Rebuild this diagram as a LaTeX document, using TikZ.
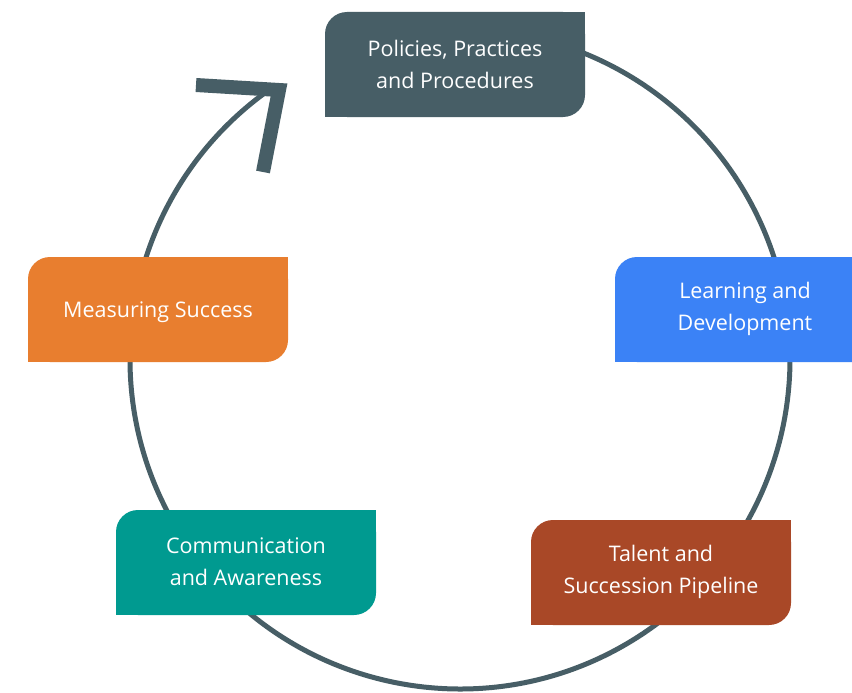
\documentclass[tikz,border=0pt]{standalone}
\usepackage{fontspec}
\setmainfont{Open Sans}
\usetikzlibrary{calc}
\definecolor{slate}{HTML}{475E66}
\definecolor{bluebox}{HTML}{3B82F6}
\definecolor{orangebox}{HTML}{E87E2F}
\definecolor{tealbox}{HTML}{009A90}
\definecolor{rustbox}{HTML}{A94827}
\tikzset{
  boxfill/.style={rounded corners=22pt},
  steptext/.style={inner sep=0pt, align=center, text=white, font=\fontsize{21.5}{32}\selectfont},
  cycleline/.style={draw=slate, line width=5pt},
  headline/.style={draw=slate, line width=14pt, miter limit=10},
}
\newcommand\stagebox[6]{%
  \fill[#4, boxfill] ({#2-130},{#3-52.5}) rectangle ({#2+130},{#3+52.5});
  \fill[#4] (#2,#3) rectangle ++(130,-52.5);
  \fill[#4] (#2,#3) rectangle ++(-130,52.5);
  \node[steptext] (#1) at (#2,{#3+#6}) {#5};
}
\begin{document}
\begin{tikzpicture}[x=1pt,y=-1pt]
\useasboundingbox (0,0) rectangle (852,693);
\clip (0,0) rectangle (852,693);
\fill[white] (0,0) rectangle (852,693);
\coordinate (ctr) at (460,359);
\coordinate (tip) at ($(ctr)+(235.3:330)$);
\draw[cycleline] (tip) arc[start angle=235.3, end angle=-80, radius=330];
\coordinate (armA) at (196,85);
\coordinate (armB) at (279,90);
\coordinate (armC) at (263,172);
\draw[headline] (armA) -- (armB) -- (armC);
\stagebox{policies}{455}{64.5}{slate}{Policies, Practices\\and Procedures}{-0.5}
\stagebox{learning}{745}{309.5}{bluebox}{Learning and\\Development}{-0.5}
\stagebox{measuring}{158}{309.5}{orangebox}{Measuring Success}{3}
\stagebox{communication}{246}{562.5}{tealbox}{Communication\\and Awareness}{-0.5}
\stagebox{talent}{661}{572.5}{rustbox}{Talent and\\Succession Pipeline}{-0.5}
\end{tikzpicture}
\end{document}
